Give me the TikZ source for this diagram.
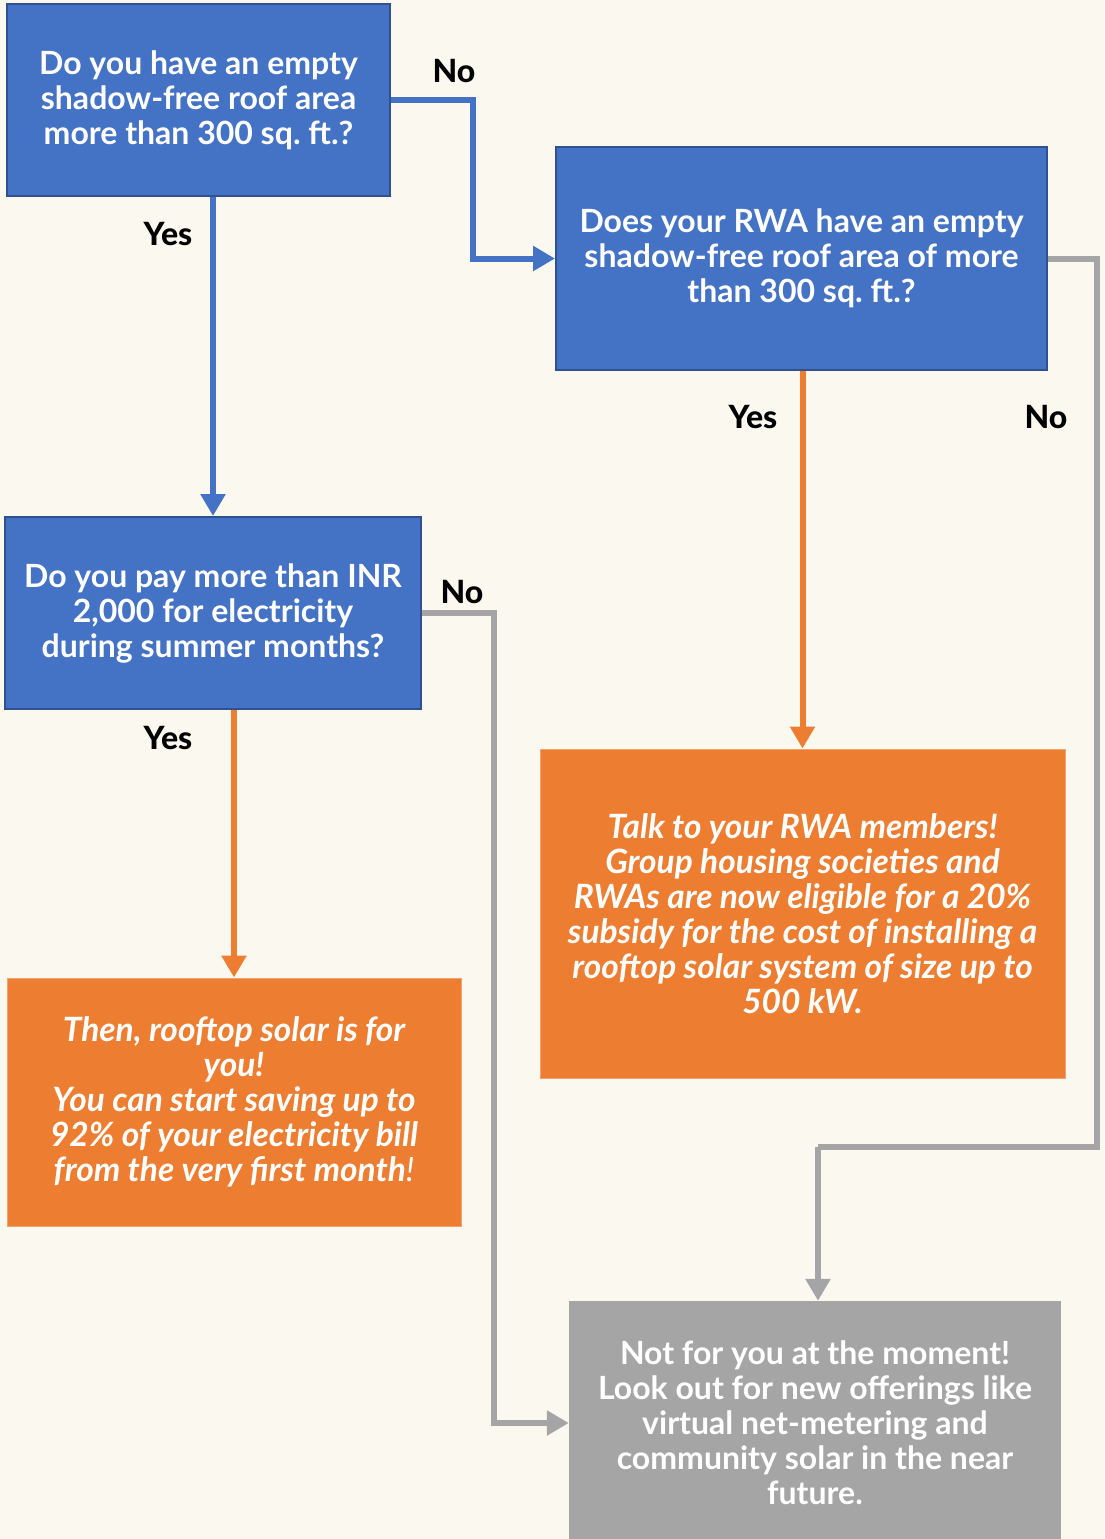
\documentclass[tikz,border=0pt]{standalone}
\usepackage{fontspec}
\setmainfont{Lato}
\newfontfamily\boxfont{Lato Bold}
\newfontfamily\labfont{Lato Heavy}
\usetikzlibrary{arrows.meta}
\definecolor{bgc}{HTML}{FBF8F0}
\definecolor{blu}{HTML}{4472C4}
\definecolor{bluD}{HTML}{2F528F}
\definecolor{org}{HTML}{ED7D31}
\definecolor{gry}{HTML}{A5A5A5}
\tikzset{
  x=1pt, y=-1pt,
  box/.style={rectangle, inner sep=0pt, align=center, text=white, font=\boxfont\fontsize{32}{35}\selectfont},
  qbox/.style={box, fill=blu, draw=bluD, line width=2pt},
  obox/.style={box, fill=org, draw=org!70!white, line width=1pt, font=\boxfont\fontsize{33.5}{35}\selectfont\itshape},
  gbox/.style={box, fill=gry},
  conn/.style={line width=6pt, -{Triangle[length=22pt,width=24pt]}},
  lab/.style={font=\labfont\fontsize{32}{35}\selectfont, text=black, inner sep=0pt},
}
\begin{document}
\begin{tikzpicture}
\useasboundingbox (0,0) rectangle (1104,1539);
\fill[bgc] (0,0) rectangle (1104,1539);
\begin{scope}
\clip (0,0) rectangle (1104,1539);
\node[qbox, minimum width=383pt, minimum height=192pt] (b1) at (198.5,100)
  {Do you have an empty\\shadow-free roof area\\more than 300 sq.\ ft.?};
\node[qbox, minimum width=491pt, minimum height=223pt] (b2) at (801.5,258.5)
  {Does your RWA have an empty\\shadow-free roof area of more\\than 300 sq.\ ft.?};
\node[qbox, minimum width=416pt, minimum height=192pt] (b3) at (213,613)
  {Do you pay more than INR\\2,000 for electricity\\during summer months?};
\node[obox, minimum width=525pt, minimum height=329pt] (b4) at (802.5,913.5)
  {Talk to your RWA members!\\Group housing societies and\\RWAs are now eligible for a 20\%\\subsidy for the cost of installing a\\rooftop solar system of size up to\\500 kW.};
\node[obox, minimum width=454pt, minimum height=248pt] (b5) at (234,1102)
  {Then, rooftop solar is for\\you!\\You can start saving up to\\92\% of your electricity bill\\from the very first month{\fontspec{Lato}!}};
\node[gbox, minimum width=492pt, minimum height=244pt] (b6) at (815,1423)
  {Not for you at the moment!\\Look out for new offerings like\\virtual net-metering and\\community solar in the near\\future.};
\end{scope}

\coordinate (k1) at (818,1147);
\draw[conn, draw=blu] (b1.east) -| (473,258.5) -- (b2.west);
\draw[conn, draw=blu] (b3.north |- b1.south) -- (b3.north);
\draw[conn, draw=org] (b4.north |- b2.south) -- (b4.north);
\draw[conn, draw=org] (b5.north |- b3.south) -- (b5.north);
\draw[conn, draw=gry, -] (b2.east) -| (1097,1147) -- (k1);
\draw[conn, draw=gry] (k1) -- (k1 |- b6.north);
\draw[conn, draw=gry] (b3.east) -| (494,1423) -- (b6.west);

\node[lab] (l1) at (454,71) {No};
\node[lab] (l2) at (168,234) {Yes};
\node[lab] (l3) at (753,417) {Yes};
\node[lab] (l4) at (1046,417) {No};
\node[lab] (l5) at (462,592) {No};
\node[lab] (l6) at (168,738) {Yes};
\end{tikzpicture}
\end{document}
